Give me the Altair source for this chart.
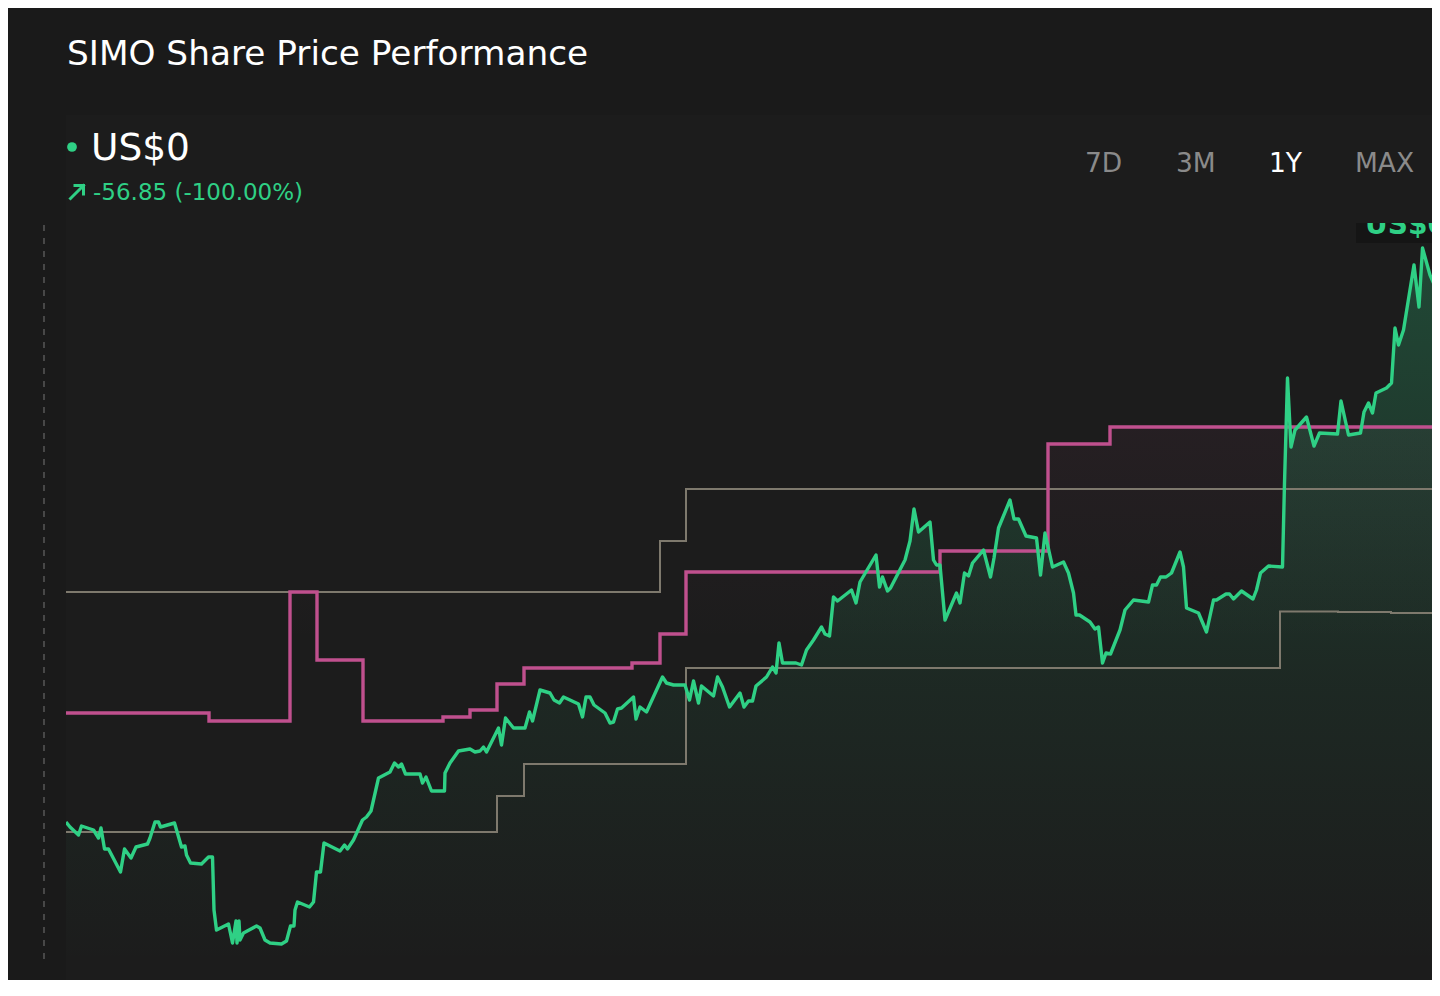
import altair as alt
import pandas as pd

# ---- data ----
day = [0, 0.8, 2.5, 3.1, 5.5, 6.5, 7.0, 7.7, 8.5, 10.9, 11.7, 13.0, 14.0, 16.3, 16.8, 17.8, 18.5, 18.9,
       21.7, 23.1, 23.8, 24.1, 24.9, 27.1, 28.5, 29.3, 29.6, 30.1, 32.5, 33.3, 34.0, 34.2, 34.6, 34.8,
       35.5, 38.1, 38.8, 39.8, 40.8, 43.1, 44.1, 44.9, 45.6, 45.8, 46.3, 48.7, 49.5, 50.1, 50.9, 51.6,
       54.8, 55.7, 56.3, 57.5, 59.3, 60.1, 61.0, 62.5, 64.8, 65.7, 66.5, 67.1, 67.9, 70.8, 71.3, 72.0,
       73.1, 75.7, 75.8, 76.8, 78.5, 80.8, 81.8, 82.8, 83.5, 84.1, 86.5, 87.1, 87.9, 89.5, 91.8, 92.7,
       93.3, 94.8, 96.8, 97.6, 98.7, 99.5, 102.5, 103.3, 104.0, 104.8, 105.6, 107.8, 108.8, 109.5,
       110.3, 111.1, 113.5, 114.0, 114.8, 116.1, 119.3, 120.1, 121.5, 123.8, 124.7, 125.5, 126.5,
       127.1, 129.5, 130.3, 131.3, 132.7, 134.8, 135.6, 136.5, 137.3, 138.0, 140.1, 141.3, 142.0,
       142.6, 143.3, 146.0, 147.1, 148.1, 149.5, 151.1, 151.8, 152.7, 153.5, 154.3, 157.1, 158.0,
       158.8, 160.1, 162.0, 162.7, 163.3, 164.3, 164.9, 167.8, 168.8, 169.6, 170.5, 172.8, 173.5,
       174.1, 174.8, 175.8, 178.1, 178.8, 179.7, 180.5, 181.3, 183.5, 184.9, 185.6, 186.5, 188.8,
       189.6, 190.5, 192.0, 194.1, 194.9, 195.8, 197.3, 199.5, 200.5, 201.5, 202.0, 202.7, 204.8,
       205.8, 206.5, 207.3, 208.0, 208.9, 210.8, 211.8, 213.5, 216.5, 217.3, 218.1, 218.9, 220.0,
       221.1, 222.8, 223.5, 224.1, 226.5, 228.1, 229.5, 230.1, 232.0, 232.7, 233.5, 235.1, 237.4,
       238.1, 238.9, 240.5, 243.3, 243.7, 244.3, 245.0, 245.8, 248.1, 249.6, 250.7, 254.3, 255.0,
       256.5, 258.9, 259.6, 260.5, 261.3, 262.0, 264.1, 265.1, 265.8, 266.5, 267.5, 269.6, 270.6,
       271.3, 272.8, 274.8]
close = [57.3, 56.8, 56.0, 56.9, 56.5, 55.7, 56.7, 54.6, 54.6, 52.3, 54.6, 53.7, 54.8, 55.1, 55.7, 57.3,
         57.3, 56.8, 57.2, 54.8, 54.9, 54.0, 53.2, 53.1, 53.8, 53.8, 48.5, 46.5, 47.1, 45.2, 47.4, 45.2,
         47.4, 45.5, 46.2, 46.9, 46.7, 45.5, 45.2, 45.1, 45.4, 46.9, 46.9, 48.5, 49.3, 48.8, 49.3, 52.3,
         52.3, 55.2, 54.4, 55.0, 54.6, 55.5, 57.5, 57.8, 58.4, 61.7, 62.3, 63.2, 62.8, 63.1, 62.1, 62.1,
         61.2, 61.8, 60.4, 60.4, 62.2, 63.2, 64.4, 64.6, 64.3, 64.4, 64.8, 64.3, 66.7, 65.0, 67.7, 66.7,
         66.7, 68.3, 67.4, 70.5, 70.2, 69.5, 69.2, 69.8, 69.1, 67.8, 69.8, 69.8, 69.0, 68.2, 67.2, 67.3,
         68.6, 68.7, 69.8, 67.6, 68.8, 68.3, 71.8, 71.2, 71.0, 71.0, 69.5, 71.4, 69.2, 70.9, 69.9, 71.8,
         70.8, 68.8, 70.2, 68.8, 69.4, 69.4, 70.9, 71.8, 72.8, 72.2, 75.2, 73.2, 73.2, 73.0, 74.5, 75.5,
         76.8, 76.1, 75.9, 79.8, 79.4, 80.5, 79.2, 81.3, 82.4, 84.0, 80.8, 81.8, 80.4, 80.7, 83.5, 85.4,
         88.6, 86.3, 87.3, 83.5, 83.0, 83.0, 77.5, 80.2, 79.2, 82.2, 81.9, 83.2, 84.5, 81.8, 83.7, 86.7,
         89.5, 87.6, 87.6, 85.9, 85.7, 82.0, 86.2, 82.8, 83.3, 82.2, 80.2, 78.0, 78.0, 77.3, 76.6, 76.8,
         73.2, 74.2, 74.1, 76.5, 78.5, 79.5, 79.3, 81.0, 81.0, 81.8, 81.8, 82.2, 84.3, 82.8, 78.7, 78.2,
         76.3, 79.5, 79.5, 80.1, 80.1, 79.6, 80.4, 79.6, 80.5, 82.2, 82.9, 82.8, 91.2, 101.7, 94.8, 96.5,
         97.8, 94.9, 96.2, 96.1, 99.4, 96.0, 96.2, 98.3, 99.2, 98.2, 100.2, 100.7, 101.2, 106.7, 105.0,
         106.5, 113.0, 108.8, 114.7, 112.0, 109.7]

# analyst price targets (step series)
avg_day = [0, 28.6, 44.8, 50.2, 59.4, 75.4, 80.8, 86.2, 91.6, 113.2, 118.8, 124.0, 174.8, 196.4, 208.8, 274.8]
avg_target = [68.2, 67.4, 80.3, 73.5, 67.4, 67.8, 68.5, 71.1, 72.7, 73.2, 76.1, 82.3, 84.4, 95.1, 96.8, 96.8]

high_day = [0, 118.8, 124.0, 274.8]
high_target = [80.3, 85.4, 90.6, 90.6]

low_day = [0, 86.2, 91.6, 124.0, 242.8, 254.4, 265.0, 274.8]
low_target = [56.3, 59.9, 63.1, 72.7, 78.35, 78.3, 78.2, 78.2]

title_text = "SIMO Share Price Performance"
price_text = "US$0"
change_text = "-56.85 (-100.00%)"
ranges = ["7D", "3M", "1Y", "MAX"]
active_range = "1Y"

# ---- styling ----
BG = "#1a1a1a"
PANEL = "#1c1c1c"
GREEN = "#2fd085"
PINK = "#c0508e"
GRAY = "#7e796d"
FONT = "DejaVu Sans"
W, H = 1366, 740
X_MAX = 273.2          # visible part of the x range (the rest runs past the window)
Y_MIN, Y_MAX = 43, 117

price_df = pd.DataFrame({"day": day, "close": close})
avg_df = pd.DataFrame({"day": avg_day, "target": avg_target})
high_df = pd.DataFrame({"day": high_day, "target": high_target})
low_df = pd.DataFrame({"day": low_day, "target": low_target})

xs = alt.Scale(domain=[0, X_MAX], nice=False, zero=False)
ys = alt.Scale(domain=[Y_MIN, Y_MAX], nice=False, zero=False)
X = alt.X("day:Q", scale=xs, axis=None)

one = alt.Data(values=[{"k": 1}])


def box(x1, x2, y1, y2, color):
    return alt.Chart(one).mark_rect(color=color).encode(
        x=alt.value(x1), x2=alt.value(x2), y=alt.value(y1), y2=alt.value(y2))


def label(text, x, y, size, color, weight="normal", align="left"):
    return alt.Chart(one).mark_text(
        text=text, font=FONT, fontSize=size, color=color, fontWeight=weight,
        align=align, baseline="alphabetic").encode(x=alt.value(x), y=alt.value(y))


def seg(x1, y1, x2, y2, color, w):
    return alt.Chart(one).mark_rule(color=color, strokeWidth=w, strokeCap="square").encode(
        x=alt.value(x1), y=alt.value(y1), x2=alt.value(x2), y2=alt.value(y2))


panel = box(0, W, -110, H + 15, PANEL)

dash = alt.Chart(one).mark_rule(color="#606060", strokeWidth=1.3, strokeDash=[6, 7]).encode(
    x=alt.value(-22), y=alt.value(0), y2=alt.value(H))

pink_fill = alt.Chart(avg_df).mark_area(
    interpolate="step-after", clip=True,
    color=alt.Gradient(gradient="linear", x1=1, x2=1, y1=0, y2=1,
                       stops=[alt.GradientStop(color="rgba(192,80,142,0.06)", offset=0),
                              alt.GradientStop(color="rgba(192,80,142,0)", offset=0.4)])
).encode(x=X, y=alt.Y("target:Q", scale=ys, axis=None), y2=alt.datum(Y_MIN))

green_fill = alt.Chart(price_df).mark_area(
    clip=True,
    color=alt.Gradient(gradient="linear", x1=1, x2=1, y1=0, y2=1,
                       stops=[alt.GradientStop(color="rgba(47,208,133,0.25)", offset=0),
                              alt.GradientStop(color="rgba(47,208,133,0.07)", offset=0.6),
                              alt.GradientStop(color="rgba(47,208,133,0)", offset=1)])
).encode(x=X, y=alt.Y("close:Q", scale=ys, axis=None), y2=alt.datum(Y_MIN))

high_line = alt.Chart(high_df).mark_line(interpolate="step-after", color=GRAY, strokeWidth=2, clip=True).encode(
    x=X, y=alt.Y("target:Q", scale=ys, axis=None))
low_line = alt.Chart(low_df).mark_line(interpolate="step-after", color=GRAY, strokeWidth=2, clip=True).encode(
    x=X, y=alt.Y("target:Q", scale=ys, axis=None))
avg_line = alt.Chart(avg_df).mark_line(interpolate="step-after", color=PINK, strokeWidth=3.4, clip=True).encode(
    x=X, y=alt.Y("target:Q", scale=ys, axis=None))
price_line = alt.Chart(price_df).mark_line(color=GREEN, strokeWidth=3.4, strokeJoin="round", clip=True).encode(
    x=X, y=alt.Y("close:Q", scale=ys, axis=None))

# clipped last-price label at the top right
tag_bg = box(1290, W, -2, 18, "#151515")
tag_text = label(price_text, 1299, 8.5, 28, GREEN, weight="bold")
tag_cover = box(1285, W, -40, -2, PANEL)

title = label(title_text, 1, -160, 34.3, "#ffffff")
dot = alt.Chart(one).mark_circle(color=GREEN, size=95, opacity=1).encode(
    x=alt.value(6), y=alt.value(-78))
price = label(price_text, 25, -65, 37.5, "#ffffff")
# the small up-right arrow icon
arrow = [seg(4.5, -26.5, 17.5, -39.5, GREEN, 3),
         seg(9, -39.5, 17.5, -39.5, GREEN, 3),
         seg(17.5, -39.5, 17.5, -31, GREEN, 3)]
change = label(change_text, 27, -25, 23, GREEN)

btn_x = [1019, 1110, 1203, 1289]
buttons = [label(r, bx, -53, 26.5, "#ffffff" if r == active_range else "#8a8a8a")
           for r, bx in zip(ranges, btn_x)]

chart = alt.layer(
    panel, dash, pink_fill, green_fill, high_line, low_line, avg_line, price_line,
    tag_bg, tag_text, tag_cover, title, dot, price, *arrow, change, *buttons
).properties(
    width=W, height=H,
    autosize=alt.AutoSizeParams(type="none"),
    padding={"left": 58, "top": 217, "right": 0, "bottom": 15},
    background=BG,
).configure_view(strokeWidth=0)

chart.save("out.html", embed_options={"renderer": "svg", "actions": False})
